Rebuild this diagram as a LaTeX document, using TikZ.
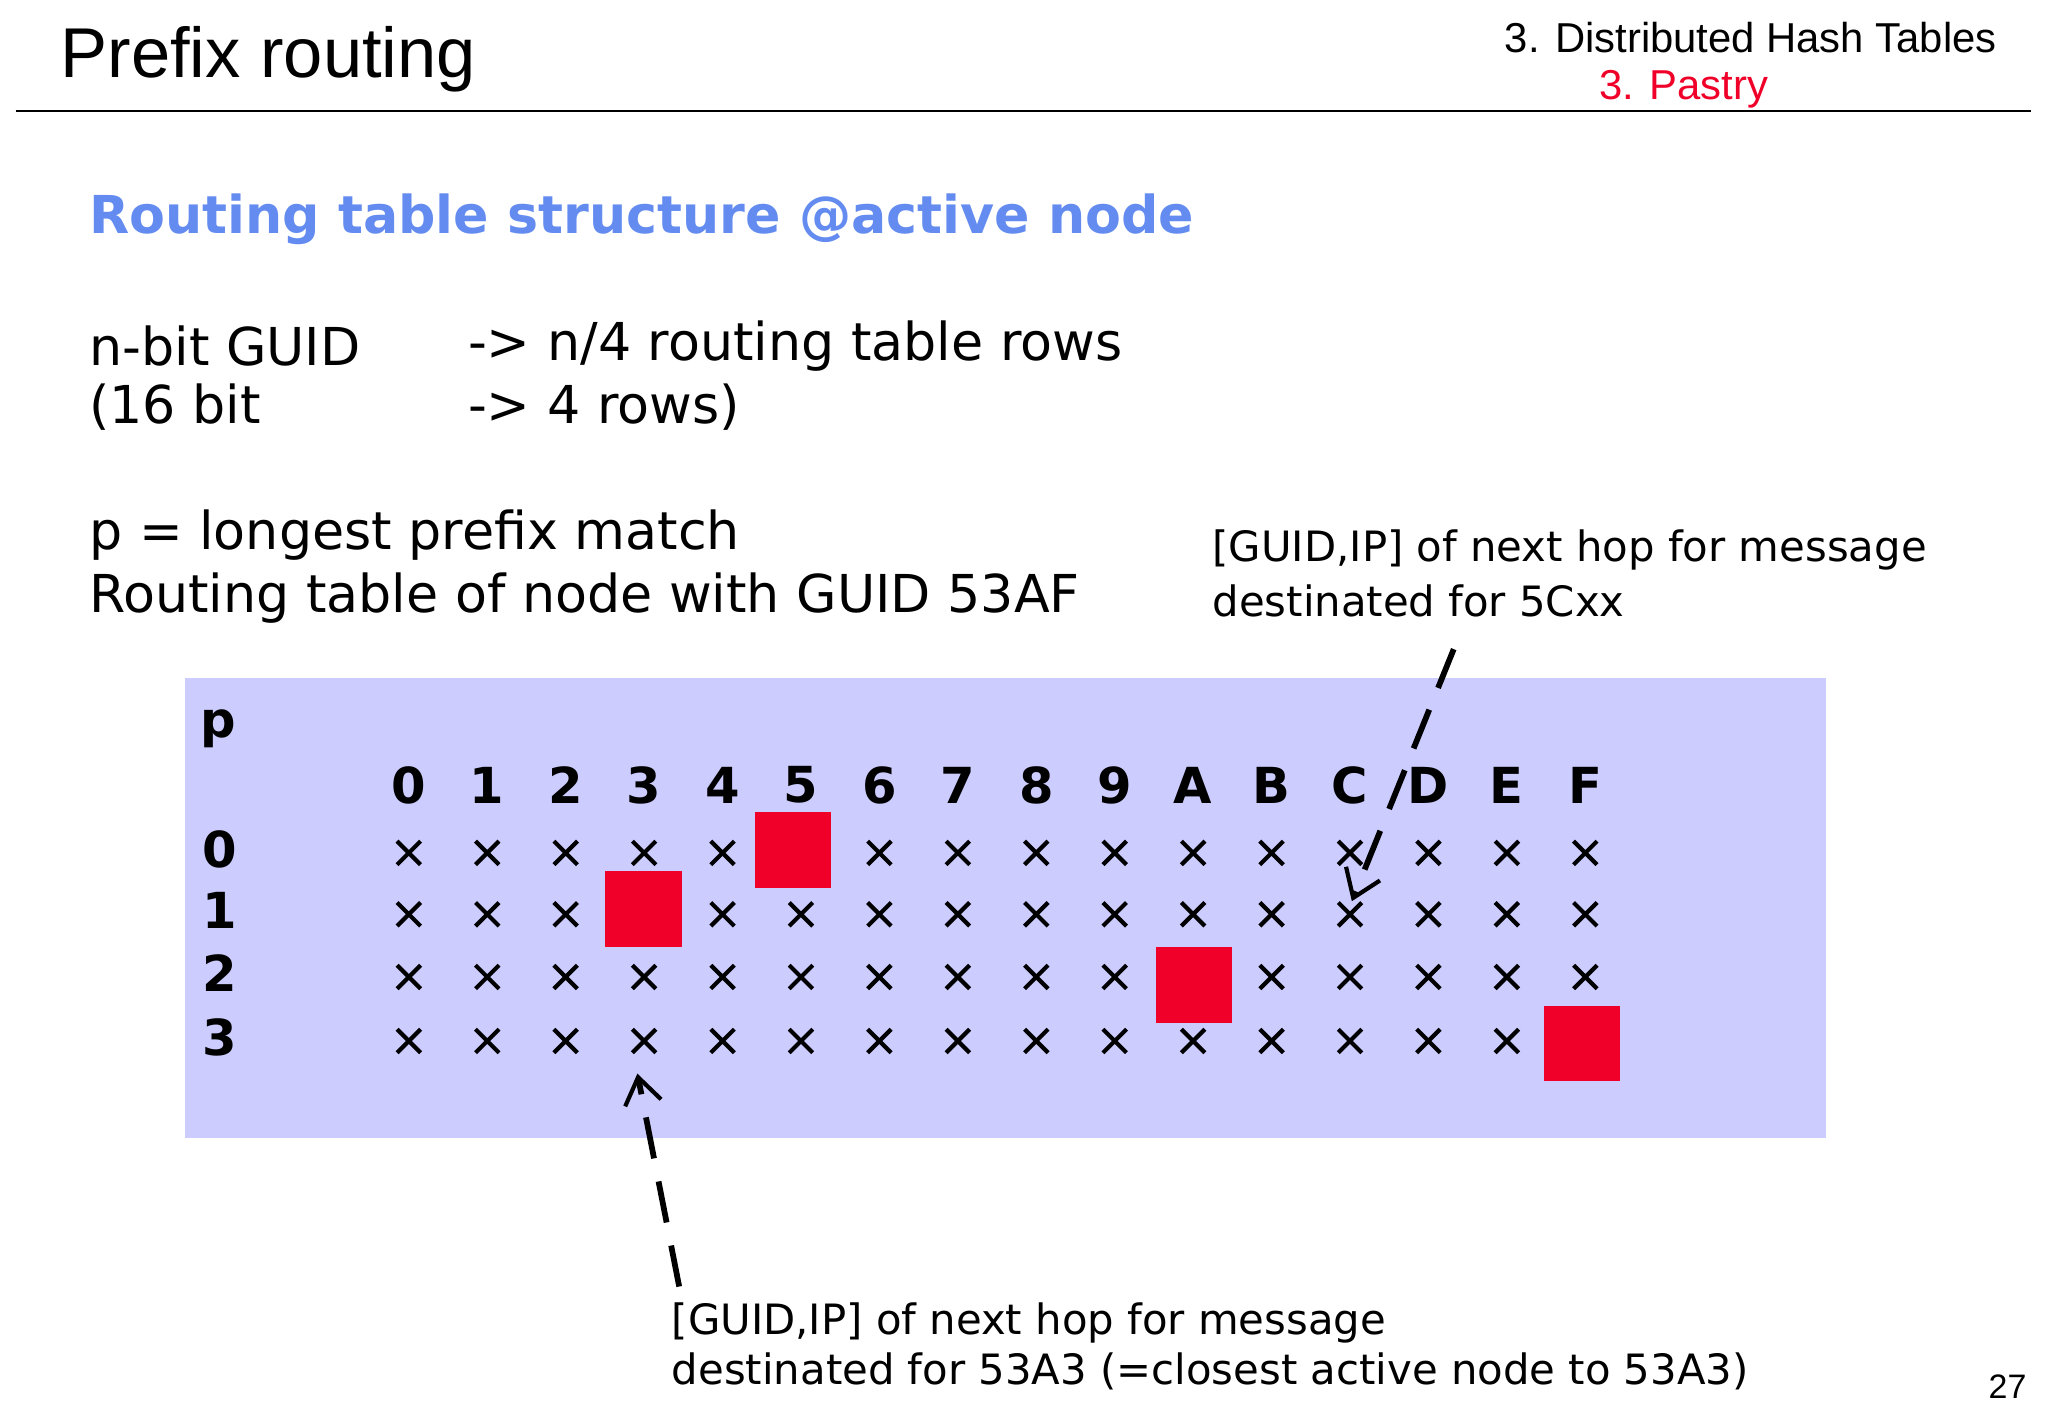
\documentclass[tikz,border=0pt]{standalone}
\usepackage{fontspec}
\setmainfont{DejaVu Sans}
\newfontfamily\arialf{Liberation Sans}
\usetikzlibrary{arrows.meta}
\definecolor{tbl}{RGB}{204,204,255}
\definecolor{hblue}{RGB}{100,140,240}
\definecolor{sred}{RGB}{240,0,40}
\begin{document}
\begin{tikzpicture}[x=0.5pt,y=-0.5pt,
  body/.style={anchor=west,inner sep=0pt,font=\fontsize{20}{24}\selectfont},
  note/.style={anchor=west,inner sep=0pt,font=\fontsize{16}{19}\selectfont},
  hdr/.style={inner sep=0pt,font=\fontsize{19}{22}\selectfont\bfseries},
  redsq/.style={fill=sred,draw=none},
  arr/.style={dashed,line width=2.2pt,dash pattern=on 16pt off 9pt,-{Straight Barb[length=10pt,width=14pt,line width=1.6pt]}}]
\useasboundingbox (0,0) rectangle (1568,1085);
\node[anchor=west,inner sep=0pt,font=\arialf\fontsize{27}{30}\selectfont] (title) at (46,45) {Prefix routing};
\node[anchor=east,inner sep=0pt,font=\arialf\fontsize{16}{19}\selectfont] (sec) at (1529,29) {3. Distributed Hash Tables};
\node[anchor=west,inner sep=0pt,text=sred,font=\arialf\fontsize{16}{19}\selectfont] (sub) at (1224,68) {3. Pastry};
\draw[line width=0.8pt] (12,85) -- (1555,85);
\node[body,text=hblue,font=\fontsize{20}{24}\selectfont\bfseries] (h) at (68,168) {Routing table structure @active node};
\node[body] (a1) at (68,265) {n-bit GUID};
\node[body] (a2) at (68,312) {(16 bit};
\node[body] (b1) at (358,265) {-> n/4 routing table rows};
\node[body] (b2) at (358,312) {-> 4 rows)};
\node[body] (c1) at (68,410) {p = longest prefix match};
\node[body] (c2) at (68,458) {Routing table of node with GUID 53AF};
\node[note] (n1) at (928,421) {[GUID,IP] of next hop for message};
\node[note] (n2) at (928,460) {destinated for 5Cxx};
\fill[tbl] (142,519) rectangle (1398,871);
\node[hdr] (p) at (167,558) {p};
\foreach \r/\y in {0/650,1/697,2/745,3/794} \node[hdr] (r\r) at (168,\y) {\r};
\fill[redsq] (578,622) rectangle (636,680);
\fill[redsq] (463,667) rectangle (522,725);
\fill[redsq] (885,725) rectangle (943,783);
\fill[redsq] (1182,770) rectangle (1240,828);
\foreach \l [count=\i from 0] in {0,1,2,3,4,5,6,7,8,9,A,B,C,D,E,F}{
  \pgfmathsetmacro\cx{313+60.05*\i}
  \node[hdr] (col\l) at (\cx,601) {\l};
  \foreach \r/\y in {0/653,1/700,2/748,3/797}{
    \coordinate (m\l\r) at (\cx,\y);
  }
}
\foreach \l in {0,1,2,3,4,5,6,7,8,9,A,B,C,D,E,F}
  \foreach \r in {0,1,2,3}
    \draw[line width=1.6pt] ([shift={(-9,-9)}]m\l\r) -- ([shift={(9,9)}]m\l\r) ([shift={(-9,9)}]m\l\r) -- ([shift={(9,-9)}]m\l\r);
\fill[redsq] (578,622) rectangle (636,680);
\fill[redsq] (463,667) rectangle (522,725);
\fill[redsq] (885,725) rectangle (943,783);
\fill[redsq] (1182,770) rectangle (1240,828);
\coordinate (s1) at (1113,497);
\coordinate (e1) at (1035,690);
\coordinate (s2) at (520,985);
\coordinate (e2) at (488,822);
\draw[arr] (s1) -- (e1);
\draw[arr] (s2) -- (e2);
\node[note] (d1) at (514,1013) {[GUID,IP] of next hop for message};
\node[note] (d2) at (514,1050) {destinated for 53A3 (=closest active node to 53A3)};
\node[inner sep=0pt,font=\arialf\fontsize{13}{15}\selectfont] (pg) at (1537,1062) {27};
\end{tikzpicture}
\end{document}
